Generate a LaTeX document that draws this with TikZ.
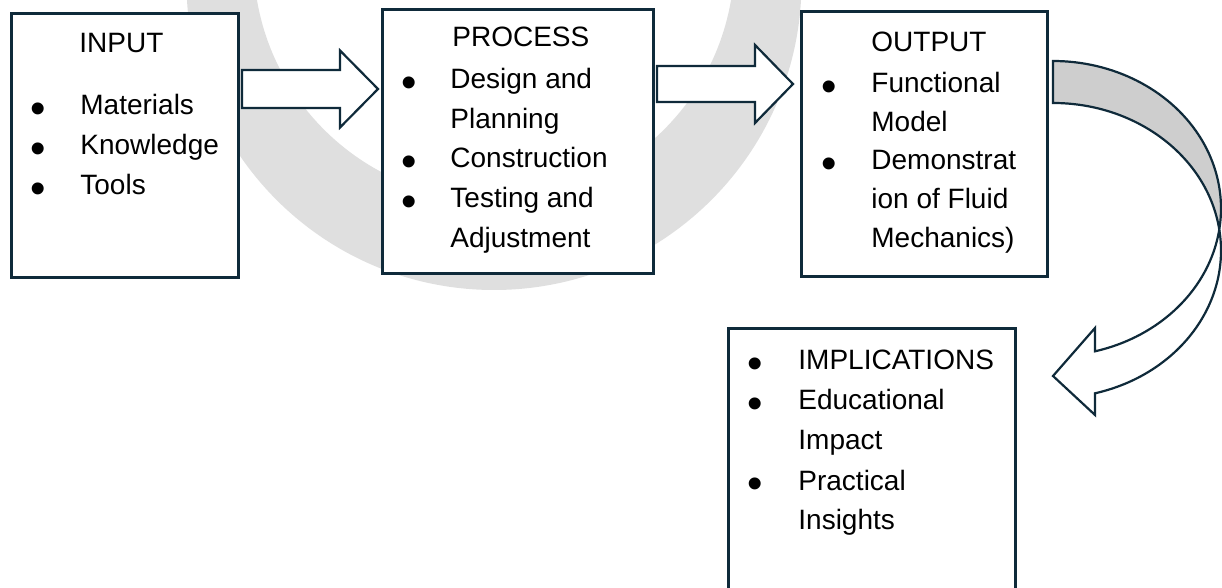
\documentclass[tikz,border=0pt]{standalone}
\usepackage{fontspec}
\setmainfont{Liberation Sans}
\usetikzlibrary{calc}
\definecolor{edge}{HTML}{0F2A3A}
\definecolor{ribbon}{RGB}{206,206,206}
\definecolor{watermark}{RGB}{223,223,223}
\begin{document}
\begin{tikzpicture}[x=0.5pt,y=0.5pt,
  box/.style={draw=edge, line width=1.5pt, fill=white, rectangle, inner sep=0pt, outer sep=0pt},
  blockarrow/.style={draw=edge, line width=1.1pt, fill=white, line join=miter},
  label/.style={anchor=base west, inner sep=0pt, font=\fontsize{14pt}{17pt}\selectfont},
  dot/.style={anchor=center, inner sep=0pt, font=\fontsize{22pt}{22pt}\selectfont},
]
\useasboundingbox (0,0) rectangle (1222,-588);

% faint ring in the background
\begin{scope}
  \clip (0,0) rectangle (1222,-588);
  \fill[watermark, even odd rule] (494,17.5) circle[radius=153.75pt]
                                  (494,40.4) circle[radius=120.2pt];
\end{scope}

% boxes
\node[box, minimum width=113.5pt, minimum height=132pt]   (input)   at (124.5,-146)   {};
\node[box, minimum width=135.5pt, minimum height=132pt]   (process) at (517.5,-142)   {};
\node[box, minimum width=123pt,   minimum height=132.5pt] (output)  at (924,-144.5)   {};
\node[box, minimum width=143.5pt, minimum height=135.5pt] (impl)    at (871.5,-464.5) {};

% block arrow INPUT -> PROCESS
\path (input.east) ++(4,57) coordinate (a1s);
\path (process.west) ++(-4,53) coordinate (a1e);
\draw[blockarrow] (a1s) ++(0,19) -- ($(a1e)+(-38,19)$) -- ($(a1e)+(-38,38.5)$) -- (a1e)
  -- ($(a1e)+(-38,-38.5)$) -- ($(a1e)+(-38,-19)$) -- ($(a1s)+(0,-19)$) -- cycle;

% block arrow PROCESS -> OUTPUT
\path (process.east) ++(4,58) coordinate (a2s);
\path (output.west) ++(-8,60.5) coordinate (a2e);
\draw[blockarrow] (a2s) ++(0,18) -- ($(a2e)+(-38,18)$) -- ($(a2e)+(-38,39)$) -- (a2e)
  -- ($(a2e)+(-38,-39)$) -- ($(a2e)+(-38,-18)$) -- ($(a2s)+(0,-18)$) -- cycle;

% curved ribbon arrow OUTPUT -> IMPLICATIONS
\path (output.east) ++(6,83.5) coordinate (r0);
% back face (shaded) up to where the two edges cross
\filldraw[blockarrow, fill=ribbon] (r0)
  arc[start angle=90, end angle=-8.185, x radius=84pt, y radius=73.75pt] coordinate (cross)
  arc[start angle=8.185, end angle=90, x radius=84pt, y radius=73.75pt] -- cycle;
% front face with the arrow head
\filldraw[blockarrow] (cross)
  arc[start angle=8.185, end angle=-75.52, x radius=84pt, y radius=73.75pt] coordinate (rb)
  -- ++(0,-21.68) -- ++(-42,39) coordinate (rtip) -- ++(42,48) -- ++(0,-23.32)
  arc[start angle=-75.52, end angle=-8.185, x radius=84pt, y radius=73.75pt] -- cycle;

% INPUT text
\node[label] (inTitle) at (79,-53)  {INPUT};
\node[dot]   (inB1)    at (38,-113) {•};
\node[label] (inT1)    at (80,-115) {Materials};
\node[dot]   (inB2)    at (38,-153) {•};
\node[label] (inT2)    at (80,-155) {Knowledge};
\node[dot]   (inB3)    at (38,-193) {•};
\node[label] (inT3)    at (80,-195) {Tools};

% PROCESS text
\node[label] (prTitle) at (452,-47)    {PROCESS};
\node[dot]   (prB1)    at (409,-87)    {•};
\node[label] (prT1)    at (450,-89)    {Design and};
\node[label] (prT1b)   at (450,-128.5) {Planning};
\node[dot]   (prB2)    at (409,-166)   {•};
\node[label] (prT2)    at (450,-168)   {Construction};
\node[dot]   (prB3)    at (409,-206)   {•};
\node[label] (prT3)    at (450,-208)   {Testing and};
\node[label] (prT3b)   at (450,-247.5) {Adjustment};

% OUTPUT text
\node[label] (ouTitle) at (871,-52)    {OUTPUT};
\node[dot]   (ouB1)    at (829,-91)    {•};
\node[label] (ouT1)    at (871,-93)    {Functional};
\node[label] (ouT1b)   at (871,-131.5) {Model};
\node[dot]   (ouB2)    at (829,-168)   {•};
\node[label] (ouT2)    at (871,-170)   {Demonstrat};
\node[label] (ouT2b)   at (871,-209)   {ion of Fluid};
\node[label] (ouT2c)   at (871,-247.5) {Mechanics)};

% IMPLICATIONS text
\node[dot]   (imB1)    at (755,-368) {•};
\node[label] (imT1)    at (798,-370) {IMPLICATIONS};
\node[dot]   (imB2)    at (755,-408) {•};
\node[label] (imT2)    at (798,-410) {Educational};
\node[label] (imT2b)   at (798,-450) {Impact};
\node[dot]   (imB3)    at (755,-488) {•};
\node[label] (imT3)    at (798,-490) {Practical};
\node[label] (imT3b)   at (798,-529) {Insights};
\end{tikzpicture}
\end{document}
